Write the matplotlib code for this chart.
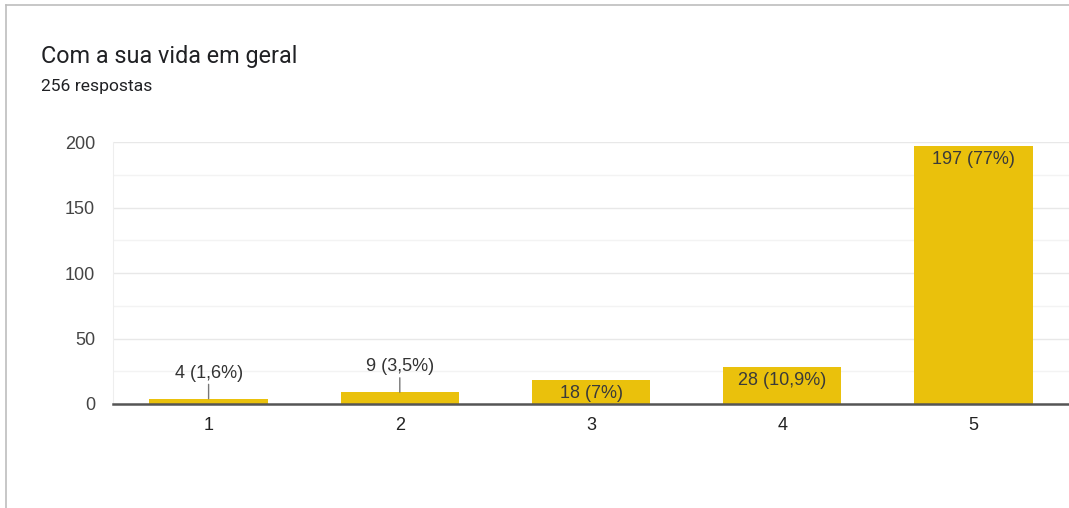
import matplotlib
matplotlib.use("Agg")
import matplotlib.pyplot as plt
from matplotlib.lines import Line2D

plt.rcParams['font.family'] = ['Roboto', 'DejaVu Sans']
CHART_FONT = ['Liberation Sans', 'DejaVu Sans']

title = "Com a sua vida em geral"
subtitle = "256 respostas"
categories = ["1", "2", "3", "4", "5"]
counts = [4, 9, 18, 28, 197]
labels = ["4 (1,6%)", "9 (3,5%)", "18 (7%)", "28 (10,9%)", "197 (77%)"]
outside = [True, True, False, False, False]
yticks = [0, 50, 100, 150, 200]
minor_yticks = [25, 75, 125, 175]

W, H = 1069, 508
fig = plt.figure(figsize=(W / 100, H / 100), dpi=100)
fig.patch.set_facecolor('white')

# card border (top and left)
fig.add_artist(Line2D([6 / W, 1], [1 - 5 / H, 1 - 5 / H], transform=fig.transFigure,
                      color='#BDBDBD', lw=1.2))
fig.add_artist(Line2D([6 / W, 6 / W], [0, 1 - 5 / H], transform=fig.transFigure,
                      color='#BDBDBD', lw=1.2))

fig.text(41 / W, 1 - 57 / H, title, fontsize=16.8, color='#202124', va='center', ha='left')
fig.text(41 / W, 1 - 87 / H, subtitle, fontsize=12.6, color='#202124', va='center', ha='left')

ax = fig.add_axes([113 / W, 1 - 404 / H, (1069 - 113) / W, (404 - 142) / H])
x = list(range(len(categories)))
ax.bar(x, counts, width=0.62, color='#EAC10C', zorder=3)
ax.set_xlim(-0.5, len(categories) - 0.5)
ax.set_ylim(0, 200)
ax.set_xticks(x)
ax.set_xticklabels(categories, family=CHART_FONT)
ax.set_yticks(yticks)
ax.set_yticklabels([str(t) for t in yticks], family=CHART_FONT)
ax.set_yticks(minor_yticks, minor=True)
ax.grid(axis='y', which='major', color='#E8E8E8', lw=1, zorder=0)
ax.grid(axis='y', which='minor', color='#F3F3F3', lw=1, zorder=0)
for s in ['top', 'right']:
    ax.spines[s].set_visible(False)
ax.spines['left'].set_color('#EEEEEE')
ax.spines['bottom'].set_color('#555555')
ax.spines['bottom'].set_linewidth(1.8)
ax.spines['bottom'].set_zorder(4)
ax.tick_params(axis='both', which='both', length=0, labelsize=13, colors='#444444')
ax.tick_params(axis='x', pad=9, labelcolor='#222222')
ax.tick_params(axis='y', pad=13)

for xi, v, lab, out in zip(x, counts, labels, outside):
    if out:
        ax.annotate(lab, xy=(xi, v), xytext=(0, 18.5), textcoords='offset points',
                    ha='center', va='center', fontsize=13, color='#333333',
                    family=CHART_FONT,
                    arrowprops=dict(arrowstyle='-', color='#777777', lw=1,
                                    shrinkA=0, shrinkB=0))
    else:
        ax.annotate(lab, xy=(xi, v), xytext=(0, -9.5), textcoords='offset points',
                    ha='center', va='center', fontsize=13, color='#3A3A3A',
                    family=CHART_FONT, zorder=5)

fig.savefig('out.png', dpi=100, facecolor='white')
